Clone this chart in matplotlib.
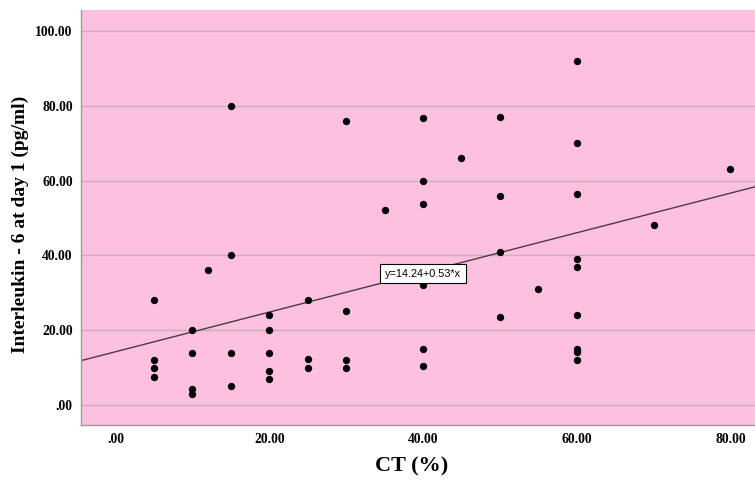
import numpy as np
import matplotlib.pyplot as plt

# CT (%) and IL-6 values
ct = [5, 5, 5, 5,
      10, 10, 10, 10,
      12,
      15, 15, 15, 15,
      20, 20, 20, 20, 20,
      25, 25, 25,
      30, 30, 30, 30,
      35,
      40, 40, 40, 40, 40, 40,
      45,
      50, 50, 50, 50,
      55,
      60, 60, 60, 60, 60, 60, 60, 60, 60,
      70, 80]
il6 = [28, 12, 10, 7.5,
       20, 14, 4.3, 3,
       36,
       80, 40, 14, 5,
       24, 20, 14, 9, 7,
       28, 12.2, 10,
       76, 25, 12, 10,
       52,
       76.7, 60, 53.7, 32, 15, 10.5,
       66,
       77, 56, 41, 23.6,
       31,
       92, 70, 56.3, 39, 37, 24, 15, 14.2, 12,
       48, 63]

intercept = 14.24
slope = 0.53

xticks = [0, 20, 40, 60, 80]
yticks = [0, 20, 40, 60, 80, 100]
tick_labels_x = ['.00', '20.00', '40.00', '60.00', '80.00']
tick_labels_y = ['.00', '20.00', '40.00', '60.00', '80.00', '100.00']

fig = plt.figure(figsize=(7.55, 4.8), dpi=100)
ax = fig.add_axes([0.1073, 0.1146, 0.8927, 0.8645])
ax.set_facecolor('#fec0e0')

xlim = (-4.5, 83.2)
ax.set_xlim(xlim)
ax.set_ylim(-5.35, 105.6)

# grid
for yv in yticks:
    ax.axhline(yv, color='#c4afbb', lw=1, zorder=1)

# regression line
xl = np.array(xlim)
ax.plot(xl, intercept + slope * xl, color='#4a3a44', lw=1, zorder=2)

ax.scatter(ct, il6, s=28, color='black', zorder=3, linewidths=0)

ax.text(40, intercept + slope * 40 - 0.3, 'y=14.24+0.53*x', fontsize=7.8,
        family='Liberation Sans', ha='center', va='center', zorder=4,
        bbox=dict(boxstyle='square,pad=0.42', fc='white', ec='black', lw=0.8))

ax.set_xticks(xticks)
ax.set_xticklabels(tick_labels_x)
ax.set_yticks(yticks)
ax.set_yticklabels(tick_labels_y)
ax.tick_params(length=0, pad=6)
for lab in ax.get_xticklabels() + ax.get_yticklabels():
    lab.set_family('Liberation Serif')
    lab.set_fontweight('bold')
    lab.set_fontsize(9.8)

for side in ['top', 'right']:
    ax.spines[side].set_visible(False)
for side in ['left', 'bottom']:
    ax.spines[side].set_color('#999999')
    ax.spines[side].set_linewidth(1)

fig.text(0.5453, 0.028, 'CT (%)', family='Liberation Serif', fontweight='bold',
         fontsize=16, ha='center', va='center')
fig.text(0.027, 0.533, 'Interleukin - 6 at day 1 (pg/ml)', family='Liberation Serif',
         fontweight='bold', fontsize=14, ha='center', va='center', rotation=90)

fig.savefig('out.png', dpi=100)
